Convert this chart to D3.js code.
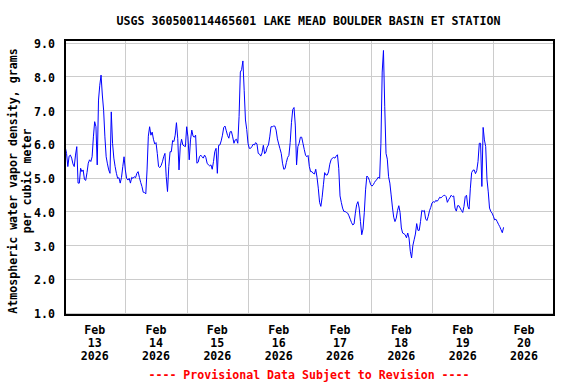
<!DOCTYPE html>
<html><head><meta charset="utf-8">
<script src="https://cdn.jsdelivr.net/npm/d3@7/dist/d3.min.js"></script>
<style>
body{margin:0;background:#fff;}
svg{display:block;}
text{font-family:"DejaVu Sans Mono",monospace;font-weight:bold;font-size:11.6px;}
</style></head>
<body><svg id="c" width="576" height="384"></svg>
<script>
const titleText = "USGS 360500114465601 LAKE MEAD BOULDER BASIN ET STATION";
const yAxisLines = ["Atmospheric water vapor density, grams", "per cubic meter"];
const footnote = "---- Provisional Data Subject to Revision ----";
const startTime = "2026-02-13T00:00:00";
const intervalMinutes = 30;
const values = [
6.17,5.90,5.72,5.33,5.64,5.67,5.58,5.41,5.33,5.67,5.92,4.84,4.84,5.28,5.18,5.23,4.95,4.92,5.15,5.43,
5.53,5.48,5.62,6.21,6.66,6.51,5.38,7.30,7.74,8.04,7.45,7.00,6.21,5.62,5.41,5.23,5.13,6.95,6.02,5.58,
5.33,5.13,4.98,5.00,4.84,5.01,5.33,5.62,5.23,4.98,4.93,4.98,4.84,5.01,4.98,5.03,5.00,5.13,5.18,5.01,
4.86,4.74,4.57,4.56,4.52,5.23,6.23,6.51,6.26,6.35,6.14,6.00,6.04,5.72,5.33,5.30,5.36,5.47,5.62,5.72,
5.03,4.59,5.33,5.77,5.77,6.10,6.07,6.26,6.63,6.17,5.23,5.94,6.14,5.97,5.94,5.92,6.51,6.21,5.53,6.12,
6.41,6.23,6.20,6.26,5.43,5.46,5.62,5.67,5.62,5.58,5.67,5.60,5.43,5.38,5.35,5.38,5.25,5.48,5.77,5.87,
5.13,5.96,5.97,6.09,6.26,6.49,6.53,6.39,6.25,6.17,6.36,6.37,6.21,6.02,6.12,6.14,6.02,6.81,8.13,8.20,
8.46,7.59,6.71,6.43,6.02,5.87,5.87,5.92,5.99,5.97,6.04,6.00,5.72,5.70,5.64,5.74,5.96,5.71,5.76,5.91,
5.97,6.21,6.51,6.51,6.53,6.53,6.41,6.15,6.00,5.86,5.72,5.43,5.25,5.27,5.45,5.60,5.66,6.04,6.63,7.02,
7.08,6.56,5.38,5.92,6.02,6.20,6.20,6.02,5.84,5.67,5.62,5.66,5.33,5.18,5.18,5.13,5.11,5.25,5.01,4.69,
4.27,4.15,4.42,4.79,5.15,5.08,5.08,5.17,5.40,5.53,5.58,5.60,5.58,5.64,5.68,5.28,4.46,4.27,4.10,4.00,
4.00,3.97,3.95,3.87,3.77,3.67,3.60,3.63,3.95,4.20,4.29,4.10,3.70,3.31,3.48,3.97,4.64,5.05,5.01,4.92,
4.79,4.75,4.79,4.86,4.92,4.95,5.02,4.98,6.02,8.13,8.77,7.10,5.72,5.55,5.03,4.84,4.49,4.13,3.83,3.70,
3.80,4.03,4.17,3.97,3.51,3.36,3.34,3.31,3.22,3.36,3.21,2.82,2.62,2.99,3.16,3.33,3.64,3.44,3.44,3.70,
4.03,4.00,4.03,3.78,3.73,3.85,4.02,4.12,4.25,4.29,4.27,4.33,4.30,4.35,4.42,4.40,4.44,4.47,4.48,4.44,
4.27,4.35,4.41,4.48,4.44,4.46,4.10,4.01,4.17,4.17,4.10,4.03,3.97,4.15,4.44,4.48,4.15,4.07,4.69,5.15,
5.22,5.23,5.12,5.21,5.48,6.02,6.02,4.74,6.49,6.12,5.92,4.95,4.58,4.10,4.00,3.95,3.86,3.75,3.77,3.70,
3.62,3.55,3.46,3.37,3.53
];
const yTicks = [1.0, 2.0, 3.0, 4.0, 5.0, 6.0, 7.0, 8.0, 9.0];
const xDays = ["2026-02-13","2026-02-14","2026-02-15","2026-02-16","2026-02-17","2026-02-18","2026-02-19","2026-02-20"];
const xDomain = ["2026-02-13T00:00:00", "2026-02-21T00:00:00"];
const yDomain = [0.93, 9.08];

const parse = d3.timeParse("%Y-%m-%dT%H:%M:%S");
const parseDay = d3.timeParse("%Y-%m-%d");
const t0 = parse(startTime);
const data = values.map((v, i) => ({t: d3.timeMinute.offset(t0, i * intervalMinutes), v}));

const svg = d3.select("#c");
const L = 64, R = 554.7, T = 40, B = 315;
const x = d3.scaleTime().domain(xDomain.map(parse)).range([L, R]);
const y = d3.scaleLinear().domain([1, 9]).range([312.7, 42.7]);

// grid
const dayDates = xDays.map(parseDay);
svg.append("g").selectAll("line").data(dayDates.slice(1)).join("line")
  .attr("x1", d => Math.round(x(d)) + 0.5).attr("x2", d => Math.round(x(d)) + 0.5)
  .attr("y1", T).attr("y2", B)
  .attr("stroke", "#cccccc").attr("stroke-width", 1);
svg.append("g").selectAll("line").data(yTicks).join("line")
  .attr("x1", L).attr("x2", R)
  .attr("y1", d => Math.round(y(d)) + 0.5).attr("y2", d => Math.round(y(d)) + 0.5)
  .attr("stroke", "#cccccc").attr("stroke-width", 1);

// clip
svg.append("clipPath").attr("id", "clip").append("rect")
  .attr("x", L).attr("y", T).attr("width", R - L).attr("height", B - T);

// line
const line = d3.line().x(d => x(d.t)).y(d => y(d.v));
svg.append("path").datum(data).attr("clip-path", "url(#clip)")
  .attr("d", line).attr("fill", "none").attr("stroke", "#0000ff").attr("stroke-width", 1);

// frame
svg.append("rect").attr("x", L + 1).attr("y", T).attr("width", R - L - 1.7).attr("height", B - T)
  .attr("fill", "none").attr("stroke", "#000").attr("stroke-width", 2);

// y axis labels
const yAxis = d3.axisLeft(y).tickValues(yTicks).tickFormat(d3.format(".1f")).tickSize(0).tickPadding(9);
const gy = svg.append("g").attr("transform", `translate(${L},0)`).call(yAxis);
gy.select(".domain").remove();
gy.selectAll("text").attr("dy", "0.43em").attr("fill", "#000")
  .style("font-family", '"DejaVu Sans Mono",monospace').style("font-weight", "bold").style("font-size", "11.6px");

// x labels
const fmtMon = d3.timeFormat("%b"), fmtDay = d3.timeFormat("%d"), fmtYr = d3.timeFormat("%Y");
const gx = svg.append("g").selectAll("text").data(dayDates).join("text")
  .attr("text-anchor", "middle")
  .attr("x", d => x(d3.timeHour.offset(d, 12)));
gx.append("tspan").attr("y", 334).attr("x", d => x(d3.timeHour.offset(d, 12))).text(d => fmtMon(d));
gx.append("tspan").attr("y", 347).attr("x", d => x(d3.timeHour.offset(d, 12))).text(d => fmtDay(d));
gx.append("tspan").attr("y", 360).attr("x", d => x(d3.timeHour.offset(d, 12))).text(d => fmtYr(d));

// title
svg.append("text").attr("x", 308.5).attr("y", 25).attr("text-anchor", "middle").text(titleText);

// y axis title
const yt = svg.append("text").attr("transform", "translate(0,181) rotate(-90)").attr("text-anchor", "middle");
yt.append("tspan").attr("x", 0).attr("y", 17).text(yAxisLines[0]);
yt.append("tspan").attr("x", 0).attr("y", 31).text(yAxisLines[1]);

// footnote
svg.append("text").attr("x", 309).attr("y", 379).attr("text-anchor", "middle")
  .attr("fill", "#ff0000").text(footnote);
</script></body></html>
